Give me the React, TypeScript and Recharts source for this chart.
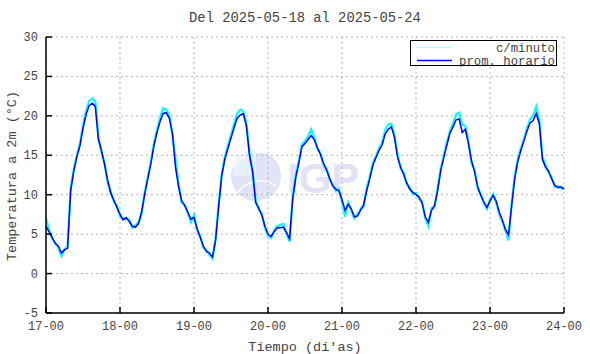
import React from "react";
import { CartesianGrid, Line, LineChart, XAxis, YAxis } from "recharts";

// hours since 17-00, one reading per hour
const hourlyAvg = [
  6.0, 5.3, 4.6, 3.8, 3.5, 2.6, 3.0, 3.2, 10.5, 13.0, 14.8, 16.2, 18.4, 20.2, 21.3, 21.6, 21.2, 17.0, 15.6, 13.8, 11.8, 10.2, 9.3, 8.4,
  7.5, 6.8, 7.1, 6.6, 6.0, 5.9, 6.3, 7.8, 10.0, 12.0, 13.9, 16.2, 17.9, 19.3, 20.3, 20.4, 19.7, 17.8, 13.5, 11.0, 9.2, 8.6, 7.8, 6.9,
  7.1, 5.7, 4.6, 3.5, 2.8, 2.6, 2.1, 4.2, 8.5, 12.4, 14.5, 15.9, 17.2, 18.5, 19.7, 20.1, 20.3, 18.7, 15.0, 13.0, 9.0, 8.3, 7.4, 6.0,
  5.0, 4.7, 5.3, 5.8, 5.8, 5.9, 5.2, 4.4, 9.4, 12.2, 14.0, 16.1, 16.5, 17.0, 17.5, 17.0, 16.0, 15.1, 14.0, 13.1, 12.1, 11.1, 10.7, 10.5,
  9.4, 8.0, 8.8, 8.2, 7.2, 7.3, 8.0, 8.7, 10.5, 12.0, 13.7, 14.7, 15.6, 16.3, 17.7, 18.3, 18.6, 17.3, 14.8, 13.5, 12.6, 11.5, 10.7, 10.3,
  10.0, 9.7, 8.9, 7.2, 6.5, 8.0, 8.6, 10.5, 13.0, 14.7, 16.3, 17.8, 18.6, 19.5, 19.6, 17.9, 18.3, 16.5, 14.3, 12.9, 11.0, 9.9, 9.1, 8.4,
  9.2, 9.9, 9.2, 7.8, 6.8, 5.6, 4.9, 8.5, 12.0, 14.2, 15.6, 16.8, 18.1, 19.1, 19.4, 20.3, 19.0, 14.5, 13.5, 13.0, 12.0, 11.2, 10.9, 11.0,
  10.7,
];

// per-minute readings, sampled at the same hours (extremes kept)
const minuteTemp = [
  7.0, 5.5, 4.4, 3.9, 3.3, 2.2, 3.1, 3.4, 10.8, 13.2, 15.0, 16.5, 18.8, 20.6, 21.9, 22.2, 21.8, 17.3, 15.4, 14.0, 11.6, 10.4, 9.1, 8.6,
  7.3, 7.0, 6.9, 6.8, 5.8, 6.1, 6.5, 7.6, 10.3, 12.2, 14.2, 16.5, 18.2, 19.8, 21.0, 20.8, 20.1, 17.6, 14.5, 11.3, 9.0, 8.8, 7.6, 6.5,
  7.4, 5.5, 4.8, 3.3, 3.0, 2.4, 1.9, 4.5, 8.8, 12.6, 14.8, 16.2, 17.6, 19.0, 20.3, 20.8, 20.6, 19.0, 15.3, 12.8, 9.3, 8.1, 7.6, 5.8,
  4.8, 4.5, 5.5, 6.0, 6.2, 6.3, 5.0, 4.1, 9.7, 12.5, 14.3, 16.4, 16.8, 17.4, 18.3, 17.3, 15.8, 15.3, 13.8, 13.3, 11.9, 11.3, 10.5, 10.7,
  9.0, 7.2, 9.0, 8.0, 7.0, 7.5, 8.2, 8.5, 10.8, 12.3, 14.0, 14.9, 15.9, 16.6, 18.2, 18.9, 19.0, 17.6, 15.1, 13.3, 12.8, 11.3, 10.9, 10.1,
  10.2, 9.5, 9.1, 7.0, 6.0, 8.3, 8.4, 10.8, 13.3, 14.9, 16.6, 18.1, 19.0, 20.2, 20.4, 18.9, 18.7, 16.8, 14.0, 13.2, 10.8, 10.1, 8.9, 8.2,
  9.4, 10.1, 9.0, 7.5, 6.6, 5.4, 4.2, 8.8, 12.3, 14.5, 15.9, 17.1, 18.4, 19.6, 20.0, 21.2, 19.5, 14.8, 13.8, 12.8, 12.2, 11.0, 11.1, 10.8,
  10.9,
];

const dayTicks = [0, 24, 48, 72, 96, 120, 144, 168];
const dayLabels = ["17-00", "18-00", "19-00", "20-00", "21-00", "22-00", "23-00", "24-00"];
const tempTicks = [-5, 0, 5, 10, 15, 20, 25, 30];

const data = hourlyAvg.map((v, i) => ({ t: i, hourly: v, minute: minuteTemp[i] }));

const FONT = "'Liberation Mono', 'DejaVu Sans Mono', monospace";
const TEXT = "#444";

function BottomTick({ x, y, payload }: any) {
  const idx = dayTicks.indexOf(payload.value);
  return (
    <g>
      <line x1={x} x2={x} y1={y} y2={y - 6} stroke="#000" strokeWidth={1.5} />
      <text x={x} y={y + 17} textAnchor="middle" fontFamily={FONT} fontSize={12} fill={TEXT}>
        {dayLabels[idx]}
      </text>
    </g>
  );
}

function TopTick({ x, y }: any) {
  return <line x1={x} x2={x} y1={y} y2={y + 6} stroke="#000" strokeWidth={1.5} />;
}

function LeftTick({ x, y, payload }: any) {
  return (
    <g>
      <line x1={x} x2={x + 6} y1={y} y2={y} stroke="#000" strokeWidth={1.5} />
      <text x={x - 8} y={y + 4} textAnchor="end" fontFamily={FONT} fontSize={12} fill={TEXT}>
        {payload.value}
      </text>
    </g>
  );
}

function RightTick({ x, y }: any) {
  return <line x1={x} x2={x - 6} y1={y} y2={y} stroke="#000" strokeWidth={1.5} />;
}

function LegendBox() {
  return (
    <svg width={148} height={27} style={{ position: "absolute", left: 410, top: 40 }}>
      <rect x={0.5} y={0.5} width={146} height={25} fill="#fff" stroke="#000" />
      <line x1={7} x2={42} y1={7.5} y2={7.5} stroke="#aaffff" strokeWidth={1} />
      <text x={145} y={11.5} textAnchor="end" fontFamily={FONT} fontSize={12.3} fill={TEXT}>
        c/minuto
      </text>
      <line x1={7} x2={42} y1={20.5} y2={20.5} stroke="#0000ff" strokeWidth={1.5} />
      <text x={145} y={24.5} textAnchor="end" fontFamily={FONT} fontSize={12.3} fill={TEXT}>
        prom. horario
      </text>
    </svg>
  );
}

function Watermark() {
  return (
    <svg width={590} height={354} style={{ position: "absolute", left: 0, top: 0 }}>
      <circle cx={256} cy={176} r={25} fill="#e1e3f6" />
      <path d="M233 176 A24 24 0 0 1 256 151 L256 176 Z" fill="#e6f0fd" />
      <path d="M233 168 A30 30 0 0 1 262 152" stroke="#fff" strokeWidth={1.5} fill="none" />
      <path d="M238 192 A28 28 0 0 1 276 186" stroke="#fff" strokeWidth={1.5} fill="none" />
      <path d="M262 152 A20 20 0 0 1 262 200" stroke="#fff" strokeWidth={1.5} fill="none" />
      <text x={287} y={193} fontFamily="'Liberation Sans', Arial, sans-serif" fontWeight="bold" fontSize={42} fill="#e2e2f4">
        IGP
      </text>
    </svg>
  );
}

export default function App() {
  return (
    <div style={{ position: "absolute", left: 0, top: 0, width: 590, height: 354, background: "#fff" }}>
      <Watermark />
      <div style={{ position: "absolute", left: 0, top: 0 }}>
        <LineChart width={590} height={354} data={data} margin={{ top: 37, right: 26, bottom: 21, left: 6 }}>
          <CartesianGrid stroke="#b4b4b4" strokeDasharray="2 3" />
          <XAxis
            dataKey="t"
            type="number"
            domain={[0, 168]}
            ticks={dayTicks}
            height={20}
            tickSize={0}
            tickMargin={0}
            tickLine={false}
            tick={<BottomTick />}
            axisLine={{ stroke: "#000", strokeWidth: 1.5 }}
            interval={0}
          />
          <XAxis
            xAxisId="top"
            dataKey="t"
            type="number"
            orientation="top"
            domain={[0, 168]}
            ticks={dayTicks}
            height={0}
            tickSize={0}
            tickMargin={0}
            tickLine={false}
            tick={<TopTick />}
            axisLine={{ stroke: "#000", strokeWidth: 1.5 }}
            interval={0}
          />
          <YAxis
            type="number"
            domain={[-5, 30]}
            ticks={tempTicks}
            width={40}
            tickSize={0}
            tickMargin={0}
            tickLine={false}
            tick={<LeftTick />}
            axisLine={{ stroke: "#000", strokeWidth: 1.5 }}
            interval={0}
          />
          <YAxis
            yAxisId="right"
            type="number"
            orientation="right"
            domain={[-5, 30]}
            ticks={tempTicks}
            width={0}
            tickSize={0}
            tickMargin={0}
            tickLine={false}
            tick={<RightTick />}
            axisLine={{ stroke: "#000", strokeWidth: 1.5 }}
            interval={0}
          />
          <Line
            dataKey="minute"
            type="linear"
            stroke="#00ffff"
            strokeWidth={2.2}
            dot={false}
            isAnimationActive={false}
          />
          <Line
            dataKey="hourly"
            type="linear"
            stroke="#0000ff"
            strokeWidth={1.5}
            dot={false}
            isAnimationActive={false}
          />
        </LineChart>
      </div>
      <LegendBox />
      <svg width={590} height={354} style={{ position: "absolute", left: 0, top: 0, pointerEvents: "none" }}>
        <text x={305} y={22} textAnchor="middle" fontFamily={FONT} fontSize={13.8} fill={TEXT}>
          Del 2025-05-18 al 2025-05-24
        </text>
        <text x={305} y={351} textAnchor="middle" fontFamily={FONT} fontSize={13.5} fill={TEXT}>
          Tiempo (di'as)
        </text>
        <text
          x={16}
          y={176}
          textAnchor="middle"
          fontFamily={FONT}
          fontSize={13.5}
          fill={TEXT}
          transform="rotate(-90 16 176)"
        >
          Temperatura a 2m (°C)
        </text>
      </svg>
    </div>
  );
}
